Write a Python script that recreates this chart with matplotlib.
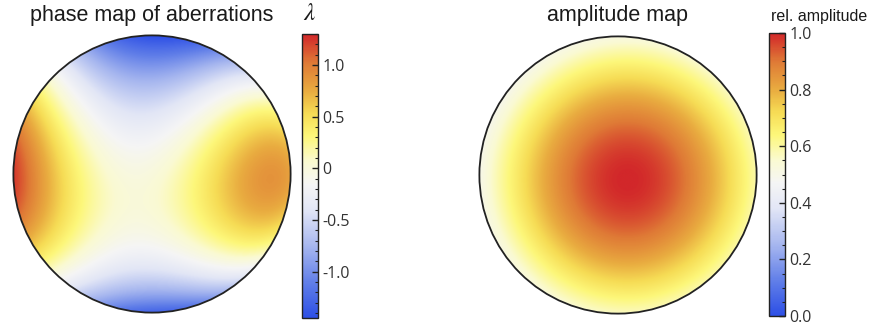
import numpy as np
import matplotlib
matplotlib.use("Agg")
import matplotlib.pyplot as plt
from matplotlib.colors import LinearSegmentedColormap
from matplotlib.patches import Circle
from matplotlib.ticker import MultipleLocator

# ---- aberration coefficients (in waves) ----
zernike_terms = ["piston", "tilt_x", "tilt_y", "defocus", "astig_0",
                 "coma_x", "coma_y", "spherical", "sec_astig_0"]
zernike_coeffs = [0.0, 0.0, -0.20, -0.09, 1.285,
                  -0.226, 0.13, -0.09, -0.085]

# ---- amplitude profile (gaussian illumination) ----
amp_center = [0.07, -0.035]
amp_waist = 1.28

# ---- colorbar settings ----
phase_limits = [-1.45, 1.30]
phase_ticks = [-1.0, -0.5, 0.0, 0.5, 1.0]
phase_ticklabels = ["-1.0", "-0.5", "0", "0.5", "1.0"]
amp_limits = [0.0, 1.0]
amp_ticks = [0.0, 0.2, 0.4, 0.6, 0.8, 1.0]
amp_ticklabels = ["0.0", "0.2", "0.4", "0.6", "0.8", "1.0"]

cmap_stops = [0.00, 0.12, 0.25, 0.38, 0.47, 0.55, 0.64, 0.72, 0.80, 0.90, 1.00]
cmap_colors = ["#2d4fe6", "#5f7de8", "#a6b6ef", "#e2e6f6", "#f5f5f5",
               "#fafad2", "#fdf77a", "#f6dc55", "#e9ac40", "#df7a36", "#d2272a"]
temp_cmap = LinearSegmentedColormap.from_list(
    "temperature", list(zip(cmap_stops, cmap_colors)))


def zernike_surface(rho, th):
    basis = {
        "piston": np.ones_like(rho),
        "tilt_x": rho * np.cos(th),
        "tilt_y": rho * np.sin(th),
        "defocus": 2 * rho**2 - 1,
        "astig_0": rho**2 * np.cos(2 * th),
        "coma_x": (3 * rho**3 - 2 * rho) * np.cos(th),
        "coma_y": (3 * rho**3 - 2 * rho) * np.sin(th),
        "spherical": 6 * rho**4 - 6 * rho**2 + 1,
        "sec_astig_0": (4 * rho**4 - 3 * rho**2) * np.cos(2 * th),
    }
    w = np.zeros_like(rho)
    for name, c in zip(zernike_terms, zernike_coeffs):
        w += c * basis[name]
    return w


n = 500
x = np.linspace(-1, 1, n)
X, Y = np.meshgrid(x, x)
R = np.hypot(X, Y)
T = np.arctan2(Y, X)
inside = R <= 1.0

phase = np.ma.masked_where(~inside, zernike_surface(R, T))
amp = np.exp(-((X - amp_center[0])**2 + (Y - amp_center[1])**2) / amp_waist**2)
amp = np.ma.masked_where(~inside, amp)

W, H = 870, 325
fig = plt.figure(figsize=(W / 100, H / 100), dpi=100)
title_font = dict(family="Liberation Sans", fontsize=15.5, color="#1a1a1a")
tick_font = "Open Sans"


def fig_rect(x0, y0, x1, y1):
    return [x0 / W, (H - y1) / H, (x1 - x0) / W, (y1 - y0) / H]


def draw_disk(rect, data, vmin, vmax):
    ax = fig.add_axes(rect)
    im = ax.imshow(data, cmap=temp_cmap, vmin=vmin, vmax=vmax, origin="lower",
                   extent=[-1, 1, -1, 1], interpolation="bilinear")
    disk = Circle((0, 0), 1.0, transform=ax.transData)
    im.set_clip_path(disk)
    ax.add_patch(Circle((0, 0), 1.0, fill=False, lw=1.3, ec="#222222"))
    ax.set_xlim(-1.01, 1.01)
    ax.set_ylim(-1.01, 1.01)
    ax.set_aspect("equal")
    ax.axis("off")
    return ax, im


def draw_bar(rect, im, ticks, labels, minor):
    cax = fig.add_axes(rect)
    cb = fig.colorbar(im, cax=cax)
    cb.outline.set_linewidth(1.0)
    cb.outline.set_edgecolor("#222222")
    cb.set_ticks(ticks)
    cb.set_ticklabels(labels)
    cax.yaxis.set_minor_locator(MultipleLocator(minor))
    cax.tick_params(which="major", direction="in", length=4, width=1,
                    color="#222222", pad=3, labelsize=11.5, labelcolor="#333333")
    cax.tick_params(which="minor", direction="in", length=2.5, width=0.8,
                    color="#222222")
    for lab in cax.get_yticklabels():
        lab.set_family(tick_font)
    return cax


ax1, im1 = draw_disk(fig_rect(12, 34, 292, 314), phase, *phase_limits)
fig.text(152 / W, 1 - 15 / H, "phase map of aberrations",
         ha="center", va="center", **title_font)
draw_bar(fig_rect(302, 34, 318, 318), im1, phase_ticks, phase_ticklabels, 0.1)
fig.text(310 / W, 1 - 13 / H, r"$\lambda$", ha="center", va="center",
         fontsize=18, math_fontfamily="stix", color="#1a1a1a")

ax2, im2 = draw_disk(fig_rect(478, 35, 758, 315), amp, *amp_limits)
fig.text(618 / W, 1 - 15 / H, "amplitude map",
         ha="center", va="center", **title_font)
draw_bar(fig_rect(769, 33, 785, 316), im2, amp_ticks, amp_ticklabels, 0.05)
fig.text(819 / W, 1 - 16 / H, "rel. amplitude", ha="center", va="center",
         family="Liberation Sans", fontsize=11.5, color="#1a1a1a")

fig.savefig("out.png", dpi=100)
